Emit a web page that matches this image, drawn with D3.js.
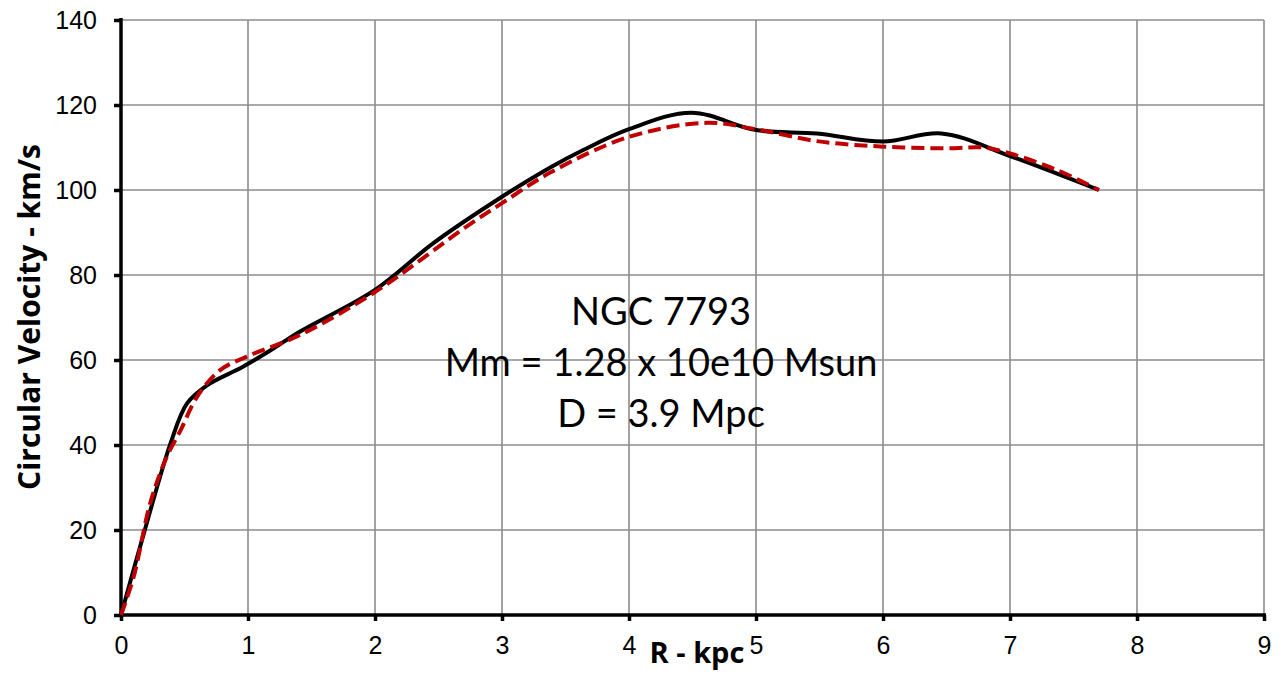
<!DOCTYPE html>
<html>
<head>
<meta charset="utf-8">
<script src="https://cdn.jsdelivr.net/npm/d3@7"></script>
<style>
  body { margin: 0; background: #fff; }
  svg { display: block; }
  .tick text { font-family: 'Liberation Sans', Arial, sans-serif; font-size: 25px; fill: #000; }
</style>
</head>
<body>
<svg id="chart" width="1286" height="675"></svg>
<script>
// observed rotation curve (solid black) and model curve (red dashed)
var rObs = [0, 0.18, 0.39, 0.52, 0.68, 0.96, 1.2, 1.41, 2.0, 2.46, 3.0, 3.38, 3.64, 4.0, 4.49, 5.0, 5.48, 6.0, 6.46, 7.0, 7.7];
var vObs = [0, 19.2, 40.4, 49.8, 54.1, 58.4, 62.7, 66.7, 76.5, 87.5, 98.4, 105.3, 109.4, 114.3, 118.2, 114.1, 113.3, 111.4, 113.3, 108, 100];

var rMod = [0, 0.1, 0.23, 0.36, 0.47, 0.6, 0.78, 0.99, 1.41, 2.0, 2.72, 3.0, 3.38, 4.0, 4.61, 5.0, 5.48, 6.0, 6.5, 6.79, 7.0, 7.37, 7.7];
var vMod = [0, 9, 26.3, 37.2, 43.5, 51.4, 57.6, 60.8, 65.9, 76, 91.4, 96.9, 104.1, 112.5, 115.8, 114.3, 111.5, 110.2, 109.8, 110, 108.6, 104.7, 100];

var xTicks = [0, 1, 2, 3, 4, 5, 6, 7, 8, 9];
var yTicks = [0, 20, 40, 60, 80, 100, 120, 140];

var notes = ["NGC 7793", "Mm = 1.28 x 10e10 Msun", "D = 3.9 Mpc"];

(function() {
  var svg = d3.select("#chart");
  var m = { left: 121, right: 1264, top: 20, bottom: 615 };

  var x = d3.scaleLinear().domain([0, 9]).range([m.left, m.right]);
  var y = d3.scaleLinear().domain([0, 140]).range([m.bottom, m.top]);

  // grid
  svg.append("g").selectAll("line")
    .data(xTicks.slice(1))
    .enter().append("line")
    .attr("x1", function(d) { return x(d); })
    .attr("x2", function(d) { return x(d); })
    .attr("y1", m.top).attr("y2", m.bottom)
    .attr("stroke", "#8c8c8c").attr("stroke-width", 1.6);

  svg.append("g").selectAll("line")
    .data(yTicks.slice(1))
    .enter().append("line")
    .attr("x1", m.left).attr("x2", m.right)
    .attr("y1", function(d) { return y(d); })
    .attr("y2", function(d) { return y(d); })
    .attr("stroke", "#8c8c8c").attr("stroke-width", 1.6);

  // axes
  var xAxis = d3.axisBottom(x).tickValues(xTicks).tickSize(6).tickPadding(15);
  var yAxis = d3.axisLeft(y).tickValues(yTicks).tickSize(7).tickPadding(17);

  var gx = svg.append("g").attr("transform", "translate(0," + m.bottom + ")").call(xAxis);
  var gy = svg.append("g").attr("transform", "translate(" + m.left + ",0)").call(yAxis);

  [gx, gy].forEach(function(g) {
    g.select(".domain").remove();
    g.selectAll(".tick line").attr("stroke", "#000").attr("stroke-width", 3.5);
  });

  svg.append("line")
    .attr("x1", m.left).attr("x2", m.left).attr("y1", m.top - 2).attr("y2", m.bottom + 2)
    .attr("stroke", "#000").attr("stroke-width", 3.5);
  svg.append("line")
    .attr("x1", m.left - 2).attr("x2", m.right + 2).attr("y1", m.bottom).attr("y2", m.bottom)
    .attr("stroke", "#000").attr("stroke-width", 3.5);

  // curves
  var line = d3.line()
    .x(function(d) { return x(d[0]); })
    .y(function(d) { return y(d[1]); })
    .curve(d3.curveCatmullRom.alpha(0.5));

  svg.append("path")
    .datum(d3.zip(rObs, vObs))
    .attr("d", line)
    .attr("fill", "none")
    .attr("stroke", "#000")
    .attr("stroke-width", 4);

  svg.append("path")
    .datum(d3.zip(rMod, vMod))
    .attr("d", line)
    .attr("fill", "none")
    .attr("stroke", "#c00000")
    .attr("stroke-width", 4)
    .attr("stroke-dasharray", "13,6");

  // titles
  svg.append("text")
    .attr("x", 697).attr("y", 663)
    .attr("text-anchor", "middle")
    .style("font-family", "'Open Sans', sans-serif")
    .style("font-weight", "bold")
    .style("font-size", "29px")
    .text("R - kpc");

  svg.append("text")
    .attr("transform", "translate(40,317) rotate(-90)")
    .attr("text-anchor", "middle")
    .style("font-family", "'Open Sans', sans-serif")
    .style("font-weight", "bold")
    .style("font-size", "30px")
    .text("Circular Velocity - km/s");

  // annotation
  svg.append("g").selectAll("text")
    .data(notes)
    .enter().append("text")
    .attr("x", 661)
    .attr("y", function(d, i) { return 325 + i * 51; })
    .attr("text-anchor", "middle")
    .style("font-family", "Lato, 'Open Sans', sans-serif")
    .style("font-size", "38px")
    .text(function(d) { return d; });
})();
</script>
</body>
</html>
